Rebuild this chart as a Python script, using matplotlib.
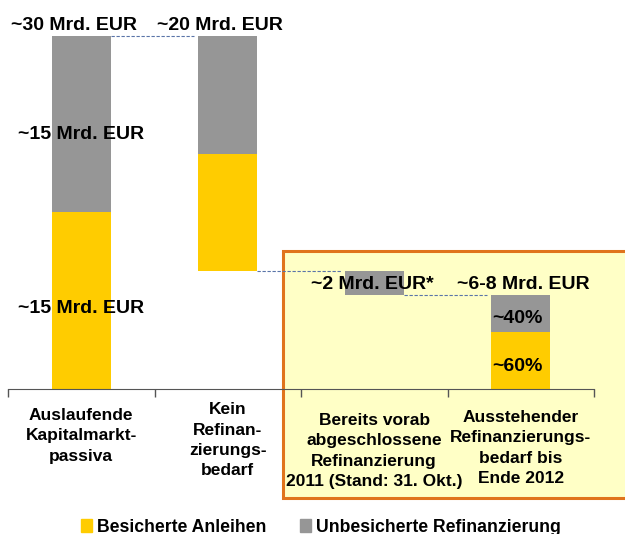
import matplotlib
matplotlib.use('Agg')
import matplotlib.pyplot as plt
from matplotlib.patches import Rectangle, Patch
from matplotlib.lines import Line2D

plt.rcParams['font.family'] = ['Liberation Sans', 'DejaVu Sans']
plt.rcParams['font.weight'] = 'bold'

categories = ['Auslaufende\nKapitalmarkt-\npassiva',
              'Kein\nRefinan-\nzierungs-\nbedarf',
              'Bereits vorab\nabgeschlossene\nRefinanzierung\n2011 (Stand: 31. Okt.)',
              'Ausstehender\nRefinanzierungs-\nbedarf bis\nEnde 2012']
bottoms = [0, 10, 8, 0]
secured = [15, 10, 0, 4.8]
unsecured = [15, 10, 2, 3.2]
series_names = ['Besicherte Anleihen', 'Unbesicherte Refinanzierung']

# annotations: text, x, y (data units)
labels = [('~30 Mrd. EUR', -0.05, 30.85),
          ('~20 Mrd. EUR', 0.95, 30.85),
          ('~15 Mrd. EUR', 0.0, 21.6),
          ('~15 Mrd. EUR', 0.0, 6.82),
          ('~2 Mrd. EUR*', 1.985, 8.85),
          ('~6-8 Mrd. EUR', 3.02, 8.85),
          ('~40%', 2.98, 5.95),
          ('~60%', 2.98, 1.9)]
cat_label_y = [-1.6, -1.12, -2.03, -1.78]

yellow = '#FFCC00'
grey = '#969696'
orange = '#E0741C'

fig = plt.figure(figsize=(6.25, 5.34), dpi=100)
ax = fig.add_axes([8 / 625, 145 / 534, 586 / 625, 365 / 534])
ax.patch.set_visible(False)
ax.set_zorder(2)

# highlighted box behind the last two columns (open to the right)
bx0, by0, by1 = 283 / 625, 36 / 534, 283 / 534
fig.patches.append(Rectangle((bx0, by0), 1.0, by1 - by0, transform=fig.transFigure,
                             facecolor='#FFFFC6', edgecolor='none', zorder=1))
fig.lines.append(Line2D([1.01, bx0, bx0, 1.01], [by1, by1, by0, by0],
                        transform=fig.transFigure, color=orange, lw=2.2,
                        solid_joinstyle='miter', zorder=1.5))

x = range(len(categories))
w = 0.4
sec_bottom = bottoms
uns_bottom = [b + s for b, s in zip(bottoms, secured)]
ax.bar(x, secured, w, bottom=sec_bottom, color=yellow, zorder=2)
ax.bar(x, unsecured, w, bottom=uns_bottom, color=grey, zorder=2)

# dashed connectors between bars
levels = [uns_bottom[0] + unsecured[0], bottoms[1], bottoms[2]]
for i, lv in enumerate(levels):
    ax.plot([i + w / 2, i + 1 - w / 2 - 0.03], [lv, lv], color='#5a74a8',
            lw=0.8, ls=(0, (3, 1.5)), zorder=1)

for t, lx, ly in labels:
    ax.text(lx, ly, t, ha='center', va='center', fontsize=14,
            fontweight='bold', zorder=5)

for i, c in enumerate(categories):
    ax.text(i, cat_label_y[i], c, ha='center', va='top', fontsize=12.5,
            fontweight='bold', linespacing=1.45)

ax.set_xlim(-0.5, len(categories) - 0.5)
ax.set_ylim(0, 31)
ax.set_xticks([i - 0.5 for i in range(len(categories) + 1)])
ax.set_xticklabels([])
ax.set_yticks([])
ax.tick_params(axis='x', direction='out', length=6, color='#555555', width=1)
for s in ['top', 'right', 'left']:
    ax.spines[s].set_visible(False)
ax.spines['bottom'].set_color('#555555')

handles = [Patch(color=yellow), Patch(color=grey)]
fig.legend(handles, series_names, loc='center', bbox_to_anchor=(321 / 625, 7 / 534),
           ncol=2, frameon=False, prop={'size': 12.7, 'weight': 'bold'},
           handlelength=0.6, handleheight=0.7, handletextpad=0.3,
           columnspacing=1.9, borderpad=0)

fig.savefig('out.png', dpi=100)
